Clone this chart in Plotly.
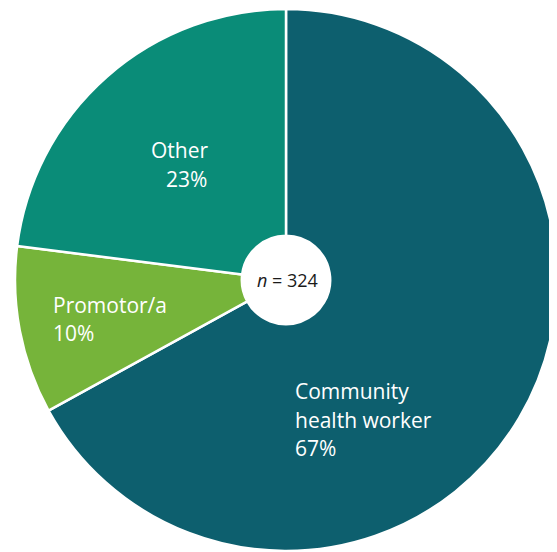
import plotly.graph_objects as go

# page body has an 8px margin; figure coordinates are offset accordingly
OFF = 8
W, H = 557 - OFF, 552 - OFF

categories = ["Community health worker", "Promotor/a", "Other"]
values = [67, 10, 23]
colors = ["#0d5f6e", "#76b43a", "#0a8c78"]
n_total = 324

CX, CY, R = 286 - OFF, 280 - OFF, 271

fig = go.Figure(go.Pie(
    labels=categories,
    values=values,
    sort=False,
    direction="clockwise",
    rotation=0,
    hole=0.163,
    marker=dict(colors=colors, line=dict(color="white", width=2.5)),
    textinfo="none",
    hoverinfo="label+percent",
    showlegend=False,
    domain=dict(x=[(CX - R) / W, (CX + R) / W],
                y=[1 - (CY + R) / H, 1 - (CY - R) / H]),
))

FONT = "Open Sans"

def px(x):
    return (x - OFF) / W

def py(y):
    return 1 - (y - OFF) / H

lines = [
    ("Community", 293, 391),
    ("health worker", 293, 420),
    (f"{values[0]}%", 293, 448),
    ("Other", 149, 150),
    (f"{values[2]}%", 164, 179),
    ("Promotor/a", 51, 305),
    (f"{values[1]}%", 51, 333),
]
annotations = []
for t, x, y in lines:
    annotations.append(dict(
        text=t, x=px(x), y=py(y), xref="paper", yref="paper",
        xanchor="left", yanchor="middle", showarrow=False,
        font=dict(family=FONT, size=21, color="white"),
    ))
annotations.append(dict(
    text=f"<i>n</i> = {n_total}", x=px(287), y=py(280), xref="paper", yref="paper",
    xanchor="center", yanchor="middle", showarrow=False,
    font=dict(family=FONT, size=18, color="#1a1a1a"),
))

fig.update_layout(
    width=W, height=H,
    margin=dict(l=0, r=0, t=0, b=0),
    paper_bgcolor="white",
    plot_bgcolor="white",
    annotations=annotations,
)

fig.write_html("out.html")
